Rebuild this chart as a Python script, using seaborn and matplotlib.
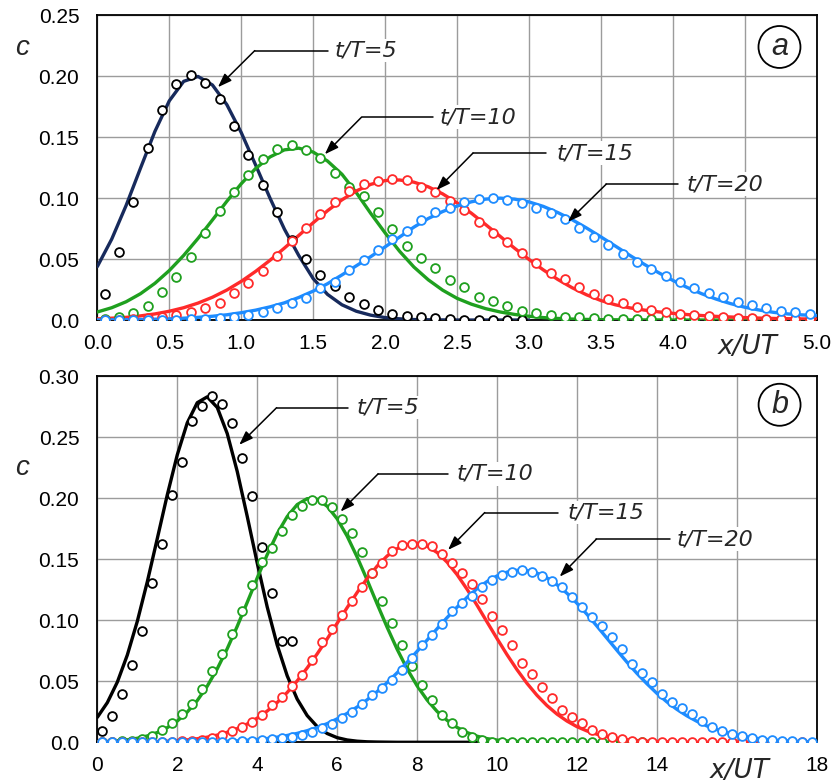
import numpy as np
import matplotlib
matplotlib.use("Agg")
import matplotlib.pyplot as plt
from matplotlib.patches import Ellipse
import seaborn as sns

# ---------------- panel (a): x/UT from 0 to 5 ----------------
# measured concentrations (circles), every 0.1 starting at 0.05
a_pts_x = np.round(np.arange(0.05, 5.0, 0.1), 2)
a_pts_t5 = [0.0216, 0.0556, 0.0966, 0.1415, 0.1720, 0.1940, 0.2010, 0.1945, 0.1810, 0.1590,
            0.1350, 0.1110, 0.0886, 0.0660, 0.0498, 0.0370, 0.0278, 0.0186, 0.0128, 0.0082,
            0.0050, 0.0033, 0.0022, 0.0014, 0.0006, 0.0003, 0.0001, 0.0, 0.0, 0.0]
a_pts_t10 = [0.0005, 0.0022, 0.0055, 0.0115, 0.0232, 0.0355, 0.0519, 0.0710, 0.0891, 0.1049,
             0.1191, 0.1325, 0.1404, 0.1437, 0.1396, 0.1328, 0.1208, 0.1090, 0.1020, 0.0890,
             0.0746, 0.0607, 0.0505, 0.0423, 0.0328, 0.0273, 0.0191, 0.0156, 0.0115, 0.0074,
             0.0055, 0.0041, 0.0027, 0.0022, 0.0015, 0.0012, 0.0010, 0.0008, 0.0007, 0.0006,
             0.0005, 0.0005, 0.0004, 0.0004, 0.0004, 0.0003, 0.0003, 0.0003, 0.0003, 0.0003]
a_pts_t15 = [0.0000, 0.0003, 0.0008, 0.0015, 0.0027, 0.0040, 0.0063, 0.0098, 0.0142, 0.0219,
             0.0306, 0.0405, 0.0525, 0.0645, 0.0758, 0.0873, 0.0966, 0.1055, 0.1112, 0.1142,
             0.1160, 0.1145, 0.1095, 0.1050, 0.0978, 0.0900, 0.0806, 0.0710, 0.0637, 0.0546,
             0.0464, 0.0383, 0.0333, 0.0273, 0.0213, 0.0176, 0.0137, 0.0104, 0.0079, 0.0063,
             0.0046, 0.0038, 0.0030, 0.0025, 0.0016, 0.0014, 0.0011, 0.0008, 0.0005, 0.0005]
a_pts_t20 = [0.0, 0.0, 0.0, 0.0, 0.0001, 0.0002, 0.0005, 0.0008, 0.0014, 0.0027,
             0.0040, 0.0066, 0.0096, 0.0137, 0.0183, 0.0260, 0.0314, 0.0408, 0.0496, 0.0578,
             0.0668, 0.0727, 0.0820, 0.0883, 0.0923, 0.0970, 0.0992, 0.0997, 0.0984, 0.0962,
             0.0923, 0.0874, 0.0825, 0.0751, 0.0683, 0.0612, 0.0538, 0.0473, 0.0415, 0.0363,
             0.0314, 0.0265, 0.0219, 0.0186, 0.0150, 0.0126, 0.0101, 0.0078, 0.0063, 0.0049]

# model curves on a 0.1 grid
a_line_x = np.round(np.arange(0.0, 5.001, 0.1), 2)
a_line_t5 = [0.0439, 0.0664, 0.0940, 0.1246, 0.1547, 0.1798, 0.1958, 0.1998, 0.1928, 0.1767,
             0.1538, 0.1272, 0.1000, 0.0746, 0.0529, 0.0340, 0.0210, 0.0125, 0.0072, 0.0040,
             0.0020, 0.0010, 0.0004, 0.0002, 0.0001, 0.0, 0.0, 0.0, 0.0, 0.0, 0.0]
a_line_t10 = [0.0066, 0.0101, 0.0150, 0.0216, 0.0301, 0.0406, 0.0530, 0.0670, 0.0821, 0.0974,
              0.1118, 0.1243, 0.1338, 0.1396, 0.1410, 0.1378, 0.1304, 0.1196, 0.1045, 0.0875,
              0.0715, 0.0565, 0.0435, 0.0330, 0.0245, 0.0178, 0.0130, 0.0093, 0.0066, 0.0046,
              0.0031, 0.0020, 0.0013, 0.0008, 0.0005, 0.0003, 0.0002, 0.0001, 0.0001, 0.0001,
              0.0, 0.0, 0.0, 0.0, 0.0, 0.0, 0.0, 0.0, 0.0, 0.0, 0.0]
a_line_t15 = [0.0009, 0.0015, 0.0022, 0.0034, 0.0050, 0.0072, 0.0101, 0.0139, 0.0187, 0.0246,
              0.0317, 0.0399, 0.0490, 0.0590, 0.0694, 0.0798, 0.0897, 0.0986, 0.1059, 0.1113,
              0.1144, 0.1149, 0.1131, 0.1093, 0.1035, 0.0961, 0.0876, 0.0782, 0.0686, 0.0589,
              0.0497, 0.0411, 0.0333, 0.0265, 0.0207, 0.0160, 0.0125, 0.0100, 0.0082, 0.0067,
              0.0055, 0.0045, 0.0037, 0.0030, 0.0025, 0.0020, 0.0016, 0.0013, 0.0011, 0.0009,
              0.0008]
a_line_t20 = [0.0001, 0.0002, 0.0003, 0.0004, 0.0007, 0.0010, 0.0015, 0.0022, 0.0031, 0.0043,
              0.0060, 0.0081, 0.0108, 0.0141, 0.0185, 0.0237, 0.0298, 0.0370, 0.0445, 0.0520,
              0.0600, 0.0680, 0.0762, 0.0833, 0.0890, 0.0935, 0.0970, 0.0992, 0.1000, 0.0992,
              0.0969, 0.0932, 0.0882, 0.0823, 0.0755, 0.0682, 0.0607, 0.0531, 0.0458, 0.0389,
              0.0325, 0.0267, 0.0216, 0.0172, 0.0135, 0.0105, 0.0082, 0.0063, 0.0050, 0.0042,
              0.0037]

# ---------------- panel (b): x/UT from 0 to 18 ----------------
b_pts_x = np.round(np.arange(0.125, 18.0, 0.25), 3)
b_pts_t5 = [0.0093, 0.0216, 0.0396, 0.0631, 0.0913, 0.1303, 0.1626, 0.2022, 0.2298, 0.2634,
            0.2754, 0.2839, 0.2768, 0.2615, 0.2328, 0.2014, 0.1601, 0.1227, 0.0831, 0.0831]
b_pts_t10 = [0.0, 0.0, 0.0008, 0.0014, 0.0025, 0.0055, 0.0101, 0.0156, 0.0230, 0.0311,
             0.0437, 0.0585, 0.0721, 0.0888, 0.1079, 0.1290, 0.1473, 0.1590, 0.1727, 0.1866,
             0.1934, 0.1982, 0.1986, 0.1928, 0.1832, 0.1713, 0.1555, 0.1390, 0.1155, 0.0975,
             0.0798, 0.0623, 0.0470, 0.0347, 0.0224, 0.0156, 0.0087, 0.0046, 0.0019, 0.0005,
             0.0002, 0.0001, 0.0, 0.0, 0.0, 0.0, 0.0, 0.0, 0.0, 0.0,
             0.0, 0.0, 0.0, 0.0, 0.0]
b_pts_t15 = [0.0, 0.0, 0.0, 0.0, 0.0, 0.0, 0.0003, 0.0005, 0.0008, 0.0012,
             0.0020, 0.0033, 0.0060, 0.0096, 0.0123, 0.0170, 0.0224, 0.0306, 0.0369, 0.0464,
             0.0552, 0.0675, 0.0825, 0.0926, 0.1044, 0.1160, 0.1276, 0.1385, 0.1467, 0.1563,
             0.1617, 0.1628, 0.1628, 0.1604, 0.1540, 0.1467, 0.1390, 0.1294, 0.1176, 0.1037,
             0.0923, 0.0793, 0.0648, 0.0558, 0.0450, 0.0361, 0.0268, 0.0204, 0.0156, 0.0101,
             0.0068, 0.0046, 0.0025, 0.0014, 0.0005, 0.0003, 0.0002, 0.0001, 0.0, 0.0,
             0.0, 0.0, 0.0, 0.0, 0.0, 0.0, 0.0, 0.0, 0.0, 0.0, 0.0]
b_pts_t20 = [0.0, 0.0, 0.0, 0.0, 0.0, 0.0, 0.0, 0.0, 0.0, 0.0,
             0.0001, 0.0002, 0.0004, 0.0006, 0.0009, 0.0012, 0.0016, 0.0025, 0.0033, 0.0041,
             0.0060, 0.0087, 0.0115, 0.0153, 0.0200, 0.0248, 0.0312, 0.0390, 0.0447, 0.0510,
             0.0593, 0.0689, 0.0795, 0.0876, 0.0972, 0.1074, 0.1139, 0.1200, 0.1276, 0.1331,
             0.1372, 0.1396, 0.1410, 0.1396, 0.1362, 0.1321, 0.1270, 0.1194, 0.1110, 0.1030,
             0.0951, 0.0864, 0.0762, 0.0642, 0.0568, 0.0493, 0.0399, 0.0333, 0.0279, 0.0228,
             0.0178, 0.0125, 0.0096, 0.0067, 0.0049, 0.0033, 0.0022, 0.0018, 0.0012, 0.0010,
             0.0006, 0.0004]

# model curves on a 0.25 grid
b_line_x = np.round(np.arange(0.0, 18.001, 0.25), 2)
b_line_t5 = [0.0205, 0.0325, 0.0493, 0.0715, 0.0991, 0.1315, 0.1669, 0.2027, 0.2355, 0.2617,
             0.2782, 0.2830, 0.2743, 0.2529, 0.2219, 0.1851, 0.1469, 0.1109, 0.0797, 0.0545,
             0.0354, 0.0219, 0.0129, 0.0072, 0.0038, 0.0019, 0.0009, 0.0004, 0.0002, 0.0001,
             0.0, 0.0, 0.0, 0.0, 0.0, 0.0, 0.0, 0.0, 0.0, 0.0]
b_line_t10 = [0.0004, 0.0007, 0.0012, 0.0020, 0.0033, 0.0052, 0.0080, 0.0120, 0.0174, 0.0248,
              0.0342, 0.0460, 0.0602, 0.0767, 0.0950, 0.1146, 0.1346, 0.1537, 0.1709, 0.1849,
              0.1947, 0.1996, 0.1991, 0.1934, 0.1831, 0.1689, 0.1518, 0.1330, 0.1134, 0.0943,
              0.0763, 0.0602, 0.0463, 0.0347, 0.0253, 0.0180, 0.0122, 0.0080, 0.0050, 0.0030,
              0.0018, 0.0011, 0.0007, 0.0004, 0.0002, 0.0001, 0.0001, 0.0, 0.0, 0.0,
              0.0, 0.0, 0.0, 0.0, 0.0, 0.0, 0.0]
b_line_t15 = [0.0, 0.0001, 0.0001, 0.0001, 0.0002, 0.0004, 0.0006, 0.0009, 0.0014, 0.0020,
              0.0029, 0.0042, 0.0059, 0.0082, 0.0112, 0.0150, 0.0198, 0.0256, 0.0326, 0.0408,
              0.0503, 0.0609, 0.0724, 0.0847, 0.0975, 0.1103, 0.1227, 0.1342, 0.1443, 0.1526,
              0.1586, 0.1621, 0.1629, 0.1607, 0.1555, 0.1476, 0.1374, 0.1254, 0.1123, 0.0986,
              0.0850, 0.0718, 0.0595, 0.0483, 0.0385, 0.0301, 0.0231, 0.0174, 0.0128, 0.0093,
              0.0066, 0.0046, 0.0031, 0.0021, 0.0014, 0.0009, 0.0006, 0.0004, 0.0002, 0.0001,
              0.0, 0.0, 0.0, 0.0, 0.0, 0.0, 0.0, 0.0, 0.0, 0.0, 0.0, 0.0, 0.0]
b_line_t20 = [0.0, 0.0, 0.0, 0.0, 0.0, 0.0, 0.0001, 0.0001, 0.0001, 0.0002,
              0.0003, 0.0004, 0.0006, 0.0009, 0.0012, 0.0017, 0.0023, 0.0031, 0.0042, 0.0056,
              0.0073, 0.0095, 0.0121, 0.0153, 0.0192, 0.0237, 0.0289, 0.0348, 0.0415, 0.0489,
              0.0569, 0.0655, 0.0745, 0.0837, 0.0930, 0.1021, 0.1107, 0.1187, 0.1258, 0.1317,
              0.1363, 0.1394, 0.1409, 0.1407, 0.1386, 0.1347, 0.1291, 0.1221, 0.1139, 0.1049,
              0.0952, 0.0853, 0.0754, 0.0657, 0.0565, 0.0480, 0.0401, 0.0331, 0.0270, 0.0217,
              0.0172, 0.0134, 0.0104, 0.0079, 0.0059, 0.0044, 0.0032, 0.0023, 0.0016, 0.0012,
              0.0008, 0.0005, 0.0004]

series_labels = ["t/T=5", "t/T=10", "t/T=15", "t/T=20"]

# axis ticks
a_xticks = [0.0, 0.5, 1.0, 1.5, 2.0, 2.5, 3.0, 3.5, 4.0, 4.5, 5.0]
a_xticklabels = ["0.0", "0.5", "1.0", "1.5", "2.0", "2.5", "3.0", "3.5", "4.0", "", "5.0"]
a_yticks = [0.0, 0.05, 0.10, 0.15, 0.20, 0.25]
a_yticklabels = ["0.0", "0.05", "0.10", "0.15", "0.20", "0.25"]
b_xticks = [0, 2, 4, 6, 8, 10, 12, 14, 16, 18]
b_xticklabels = ["0", "2", "4", "6", "8", "10", "12", "14", "", "18"]
b_yticks = [0.0, 0.05, 0.10, 0.15, 0.20, 0.25, 0.30]
b_yticklabels = ["0.0", "0.05", "0.10", "0.15", "0.20", "0.25", "0.30"]

# ---------------- styling ----------------
sns.set_theme(style="white")
plt.rcParams["font.family"] = ["Liberation Sans", "DejaVu Sans"]
LABEL_FONT = ["DejaVu Sans", "Liberation Sans"]

GREEN = "#1fa01f"
RED = "#ff2a2a"
BLUE = "#1e8cff"
NAVY = "#172a5c"
GRID = "#9c9c9c"

fig = plt.figure(figsize=(8.37, 7.84), dpi=100)
ax_a = fig.add_axes([0.1163, 0.5918, 0.8595, 0.3887])
ax_b = fig.add_axes([0.1163, 0.0532, 0.8595, 0.4671])


def draw_series(ax, line_x, line_y, pts_x, pts_y, line_color, pt_color):
    n = len(line_y)
    sns.lineplot(x=line_x[:n], y=line_y, color=line_color, linewidth=2.4,
                 estimator=None, sort=False, ax=ax, zorder=3)
    m = len(pts_y)
    sns.scatterplot(x=pts_x[:m], y=pts_y, color=pt_color, facecolor="white",
                    edgecolor=pt_color, s=40, linewidth=1.3, ax=ax, zorder=4)


def style_axes(ax, xlim, ylim, xticks, xlabels, yticks, ylabels):
    ax.set_xlim(*xlim)
    ax.set_ylim(*ylim)
    ax.set_xticks(xticks)
    ax.set_xticklabels(xlabels)
    ax.set_yticks(yticks)
    ax.set_yticklabels(ylabels)
    ax.set_xlabel("")
    ax.set_ylabel("")
    ax.grid(True, color=GRID, linewidth=1.0, zorder=0)
    ax.set_axisbelow(True)
    for sp in ax.spines.values():
        sp.set_visible(True)
        sp.set_color("black")
        sp.set_linewidth(1.3)
    ax.tick_params(axis="both", direction="out", length=4, width=1.0,
                   color="#606060", labelsize=15, labelcolor="black")
    ax.tick_params(axis="y", pad=9)
    ax.tick_params(axis="x", pad=6)


def callout(ax, label, tip, elbow, line_end, text_x):
    ax.annotate("", xy=tip, xytext=elbow,
                arrowprops=dict(arrowstyle="-|>,head_length=0.7,head_width=0.25",
                                color="black", lw=1.1, mutation_scale=12,
                                shrinkA=0, shrinkB=0), zorder=6)
    ax.plot([elbow[0], line_end], [elbow[1], elbow[1]], color="black", lw=1.1, zorder=6)
    ax.text(text_x, elbow[1], label, style="italic", fontsize=16, family=LABEL_FONT,
            ha="left", va="center", zorder=7,
            bbox=dict(boxstyle="square,pad=0.08", facecolor="white", edgecolor="none"))


def panel_tag(ax, cx, cy, w, h, letter):
    ax.add_patch(Ellipse((cx, cy), w, h, facecolor="white", edgecolor="black",
                         lw=1.3, zorder=6))
    ax.text(cx, cy, letter, style="italic", fontsize=22, ha="center",
            va="center", zorder=7)


# panel (a)
draw_series(ax_a, a_line_x, a_line_t5, a_pts_x, a_pts_t5, NAVY, "black")
draw_series(ax_a, a_line_x, a_line_t10, a_pts_x, a_pts_t10, GREEN, GREEN)
draw_series(ax_a, a_line_x, a_line_t15, a_pts_x, a_pts_t15, RED, RED)
draw_series(ax_a, a_line_x, a_line_t20, a_pts_x, a_pts_t20, BLUE, BLUE)
style_axes(ax_a, (0, 5), (0, 0.25), a_xticks, a_xticklabels, a_yticks, a_yticklabels)

callout(ax_a, series_labels[0], (0.838, 0.191), (1.094, 0.221), 1.60, 1.65)
callout(ax_a, series_labels[1], (1.581, 0.136), (1.836, 0.1664), 2.33, 2.38)
callout(ax_a, series_labels[2], (2.357, 0.1066), (2.611, 0.137), 3.121, 3.19)
callout(ax_a, series_labels[3], (3.271, 0.0806), (3.537, 0.1115), 4.035, 4.093)
panel_tag(ax_a, 4.741, 0.224, 0.2917, 0.0344, "a")

# panel (b)
draw_series(ax_b, b_line_x, b_line_t5, b_pts_x, b_pts_t5, "black", "black")
draw_series(ax_b, b_line_x, b_line_t10, b_pts_x, b_pts_t10, GREEN, GREEN)
draw_series(ax_b, b_line_x, b_line_t15, b_pts_x, b_pts_t15, RED, RED)
draw_series(ax_b, b_line_x, b_line_t20, b_pts_x, b_pts_t20, BLUE, BLUE)
style_axes(ax_b, (0, 18), (0, 0.30), b_xticks, b_xticklabels, b_yticks, b_yticklabels)

callout(ax_b, series_labels[0], (3.55, 0.2437), (4.485, 0.2741), 6.275, 6.485)
callout(ax_b, series_labels[1], (6.085, 0.189), (7.025, 0.2199), 8.775, 8.985)
callout(ax_b, series_labels[2], (8.775, 0.1576), (9.693, 0.1882), 11.525, 11.775)
callout(ax_b, series_labels[3], (11.568, 0.1357), (12.485, 0.1664), 14.318, 14.485)
panel_tag(ax_b, 17.07, 0.2765, 1.05, 0.0344, "b")

# axis titles
fig.text(0.0263, 0.9388, "c", style="italic", fontsize=20, ha="center", va="center")
fig.text(0.0263, 0.4030, "c", style="italic", fontsize=20, ha="center", va="center")
fig.text(0.893, 0.5574, "x/UT", style="italic", fontsize=19, family=LABEL_FONT,
         ha="center", va="center")
fig.text(0.8835, 0.0166, "x/UT", style="italic", fontsize=19, family=LABEL_FONT,
         ha="center", va="center")

fig.savefig("out.png", dpi=100, facecolor="white")
